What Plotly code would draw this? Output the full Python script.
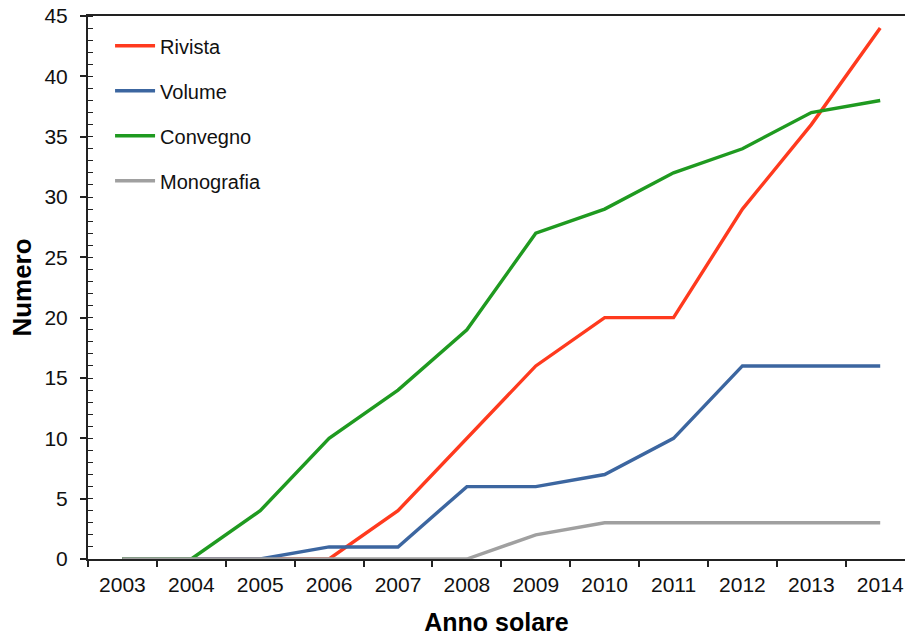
import plotly.graph_objects as go

anni = ["2003", "2004", "2005", "2006", "2007", "2008", "2009", "2010", "2011", "2012", "2013", "2014"]
rivista = [0, 0, 0, 0, 4, 10, 16, 20, 20, 29, 36, 44]
volume = [0, 0, 0, 1, 1, 6, 6, 7, 10, 16, 16, 16]
convegno = [0, 0, 4, 10, 14, 19, 27, 29, 32, 34, 37, 38]
monografia = [0, 0, 0, 0, 0, 0, 2, 3, 3, 3, 3, 3]
y_ticks = [0, 5, 10, 15, 20, 25, 30, 35, 40, 45]

series = [
    ("Rivista", rivista, "#ff3a1e"),
    ("Volume", volume, "#3c66a0"),
    ("Convegno", convegno, "#1f9a20"),
    ("Monografia", monografia, "#a0a0a0"),
]

fig = go.Figure()
for name, vals, col in series:
    fig.add_trace(go.Scatter(
        x=anni, y=vals, name=name, mode="lines",
        line=dict(color=col, width=3.4),
        legendgroup=name, cliponaxis=False,
    ))

font = "Liberation Sans, Arial, Helvetica, sans-serif"
fig.update_layout(
    width=905, height=636,
    margin=dict(l=88, r=0, t=16, b=77),
    paper_bgcolor="white", plot_bgcolor="white",
    font=dict(family=font, color="#111", size=21),
    showlegend=True,
    legend=dict(
        x=0.027, y=0.981, xanchor="left", yanchor="top",
        bgcolor="rgba(0,0,0,0)", font=dict(size=20, color="#111"),
        tracegroupgap=16, traceorder="grouped", itemwidth=40,
    ),
    xaxis=dict(
        type="category", range=[-0.5, 11.36], automargin=False,
        showline=True, linecolor="#222", linewidth=2, mirror=True,
        ticks="outside", ticklen=6, tickwidth=1.5, tickcolor="#222",
        tickson="boundaries", showgrid=False, zeroline=False,
        tickfont=dict(size=21, color="#111"), ticklabelstandoff=6,
        ticklabeloverflow="allow",
        title=dict(text="<b>Anno solare</b>", font=dict(size=25, color="#000"), standoff=32),
        layer="below traces",
    ),
    yaxis=dict(
        range=[0, 45], tickvals=y_ticks, automargin=False,
        showline=True, linecolor="#222", linewidth=2,
        ticks="outside", ticklen=6, tickwidth=1.5, tickcolor="#222",
        showgrid=False, zeroline=False,
        tickfont=dict(size=21, color="#111"), ticklabelstandoff=8,
        ticklabeloverflow="allow",
        minor=dict(dtick=1, ticks="inside", ticklen=5, tickwidth=1.2, tickcolor="#222", showgrid=False),
        title=dict(text="<b>Numero</b>", font=dict(size=26, color="#000"), standoff=5),
        layer="below traces",
    ),
)

fig.write_html(
    "out.html",
    config={"displayModeBar": False},
    post_script="document.body.style.margin='0';document.body.style.padding='0';",
)
